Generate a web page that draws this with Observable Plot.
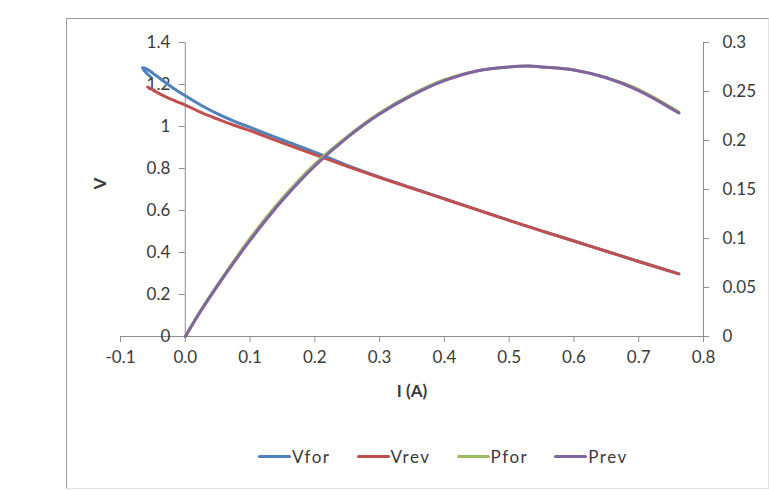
<!DOCTYPE html>
<html>
<head>
<meta charset="utf-8">
<script src="https://cdn.jsdelivr.net/npm/d3@7"></script>
<script src="https://cdn.jsdelivr.net/npm/@observablehq/plot@0.6"></script>
<style>
  body { margin: 0; background: #fff; }
  #wrap { position: relative; width: 769px; height: 490px; overflow: hidden; font-family: Lato, "Open Sans", sans-serif; }
  #frame { position: absolute; left: 66px; top: 18px; width: 701px; height: 469px;
           border-left: 1px solid #9a9a9a; border-top: 1px solid #9a9a9a;
           border-right: 1px solid #e2e2e2; border-bottom: 1px solid #e2e2e2; pointer-events: none; }
  #chart { position: absolute; left: 0; top: 0; }
  #legend { position: absolute; left: 258px; top: 446px; display: flex; align-items: center; font-size: 17px; color: #3a3a3a; letter-spacing: 1.5px; }
  .item { display: flex; align-items: center; margin-right: 26px; }
  .sw { width: 33px; height: 3px; border-radius: 2px; margin-right: 1px; }
</style>
</head>
<body>
<div id="wrap">
  <div id="frame"></div>
  <div id="chart"></div>
  <div id="legend"></div>
</div>
<script>
// ---- data ----
const seriesNames = ["Vfor", "Vrev", "Pfor", "Prev"];
const seriesColors = ["#4F81BD", "#C0504D", "#9BBB59", "#8064A2"];

const vforI = [-0.054, -0.060, -0.064, -0.066, -0.060, -0.050, -0.037, -0.020, 0.000, 0.025, 0.050, 0.075, 0.100, 0.150, 0.200, 0.250, 0.300, 0.350, 0.400, 0.450, 0.500, 0.550, 0.600, 0.650, 0.700, 0.762];
const vforV = [1.238, 1.255, 1.270, 1.280, 1.274, 1.254, 1.224, 1.186, 1.146, 1.100, 1.060, 1.026, 0.996, 0.936, 0.878, 0.815, 0.759, 0.707, 0.656, 0.604, 0.553, 0.503, 0.455, 0.406, 0.357, 0.298];

const vrevI = [-0.058, -0.045, -0.030, -0.015, 0.000, 0.025, 0.050, 0.075, 0.100, 0.150, 0.200, 0.250, 0.300, 0.350, 0.400, 0.450, 0.500, 0.550, 0.600, 0.650, 0.700, 0.762];
const vrevV = [1.188, 1.165, 1.141, 1.121, 1.102, 1.066, 1.035, 1.006, 0.980, 0.922, 0.866, 0.810, 0.757, 0.706, 0.655, 0.604, 0.553, 0.503, 0.455, 0.406, 0.357, 0.298];

const pI    = [0.000, 0.025, 0.050, 0.100, 0.150, 0.200, 0.250, 0.300, 0.350, 0.400, 0.450, 0.500, 0.530, 0.550, 0.600, 0.650, 0.700, 0.762];
const pforP = [0.000, 0.028, 0.053, 0.100, 0.141, 0.176, 0.204, 0.228, 0.247, 0.262, 0.271, 0.275, 0.276, 0.275, 0.272, 0.264, 0.252, 0.229];
const prevP = [0.000, 0.027, 0.052, 0.098, 0.139, 0.174, 0.203, 0.227, 0.246, 0.261, 0.271, 0.275, 0.276, 0.275, 0.272, 0.264, 0.251, 0.228];

const xTicks = [-0.1, 0, 0.1, 0.2, 0.3, 0.4, 0.5, 0.6, 0.7, 0.8];
const yTicks = [0, 0.2, 0.4, 0.6, 0.8, 1, 1.2, 1.4];
const yLabels = ["0", "0.2", "0.4", "0.6", "0.8", "1", "1.2", "1.4"];
const pTicks = [0, 0.05, 0.1, 0.15, 0.2, 0.25, 0.3];
const pLabels = ["0", "0.05", "0.1", "0.15", "0.2", "0.25", "0.3"];

// ---- build tables ----
const vMax = 1.4, pMax = 0.3, k = vMax / pMax; // secondary axis mapping
const vfor = vforI.map((I, i) => ({I, y: vforV[i]}));
const vrev = vrevI.map((I, i) => ({I, y: vrevV[i]}));
const pfor = pI.map((I, i) => ({I, y: pforP[i] * k}));
const prev = pI.map((I, i) => ({I, y: prevP[i] * k}));
const yTickData = yTicks.map((v, i) => ({v, label: yLabels[i]}));
const pTickData = pTicks.map((v, i) => ({v: v * k, label: pLabels[i]}));

const axisColor = "#8e8e8e";
const textColor = "#3a3a3a";
const fs = 17;
const lineOpts = {x: "I", y: "y", strokeWidth: 3, strokeLinecap: "round", strokeLinejoin: "round", curve: "catmull-rom"};

const chart = Plot.plot({
  width: 769,
  height: 430,
  marginLeft: 120,
  marginRight: 66,
  marginTop: 42,
  marginBottom: 94,
  style: {fontFamily: "Lato, 'Open Sans', sans-serif", fontSize: fs + "px", background: "transparent", color: textColor},
  x: {domain: [-0.1, 0.8]},
  y: {domain: [0, vMax], axis: null},
  marks: [
    // axis lines
    Plot.ruleY([0], {stroke: axisColor}),
    Plot.ruleX([0], {stroke: axisColor}),
    Plot.ruleX([0.8], {stroke: axisColor}),
    // x axis
    Plot.axisX({ticks: xTicks, tickFormat: d => d.toFixed(1), tickSize: 6, tickPadding: 8,
                stroke: axisColor, fill: textColor, fontSize: fs, label: null}),
    Plot.text(["I (A)"], {frameAnchor: "bottom", dy: 60, fontWeight: "bold", fill: textColor, fontSize: fs}),
    // primary y axis at x = 0
    Plot.ruleY(yTickData, {y: "v", x1: 0, x2: 0, insetLeft: -6, stroke: axisColor}),
    Plot.text(yTickData, {x: 0, y: "v", text: "label", textAnchor: "end", dx: -15, fill: textColor, fontSize: fs}),
    Plot.text(["V"], {frameAnchor: "left", dx: -20, rotate: -90, fontWeight: "bold", fill: textColor, fontSize: fs}),
    // secondary y axis (power)
    Plot.ruleY(pTickData, {y: "v", x1: 0.8, x2: 0.8, insetRight: -6, stroke: axisColor}),
    Plot.text(pTickData, {x: 0.8, y: "v", text: "label", textAnchor: "start", dx: 19, fill: textColor, fontSize: fs}),
    // series
    Plot.line(vfor, {...lineOpts, stroke: seriesColors[0]}),
    Plot.line(vrev, {...lineOpts, stroke: seriesColors[1]}),
    Plot.line(pfor, {...lineOpts, stroke: seriesColors[2]}),
    Plot.line(prev, {...lineOpts, stroke: seriesColors[3]})
  ]
});
document.getElementById("chart").appendChild(chart);

// legend
const legend = document.getElementById("legend");
seriesNames.forEach((name, i) => {
  const item = document.createElement("div");
  item.className = "item";
  const sw = document.createElement("div");
  sw.className = "sw";
  sw.style.background = seriesColors[i];
  const t = document.createElement("span");
  t.textContent = name;
  item.appendChild(sw);
  item.appendChild(t);
  legend.appendChild(item);
});
</script>
</body>
</html>
